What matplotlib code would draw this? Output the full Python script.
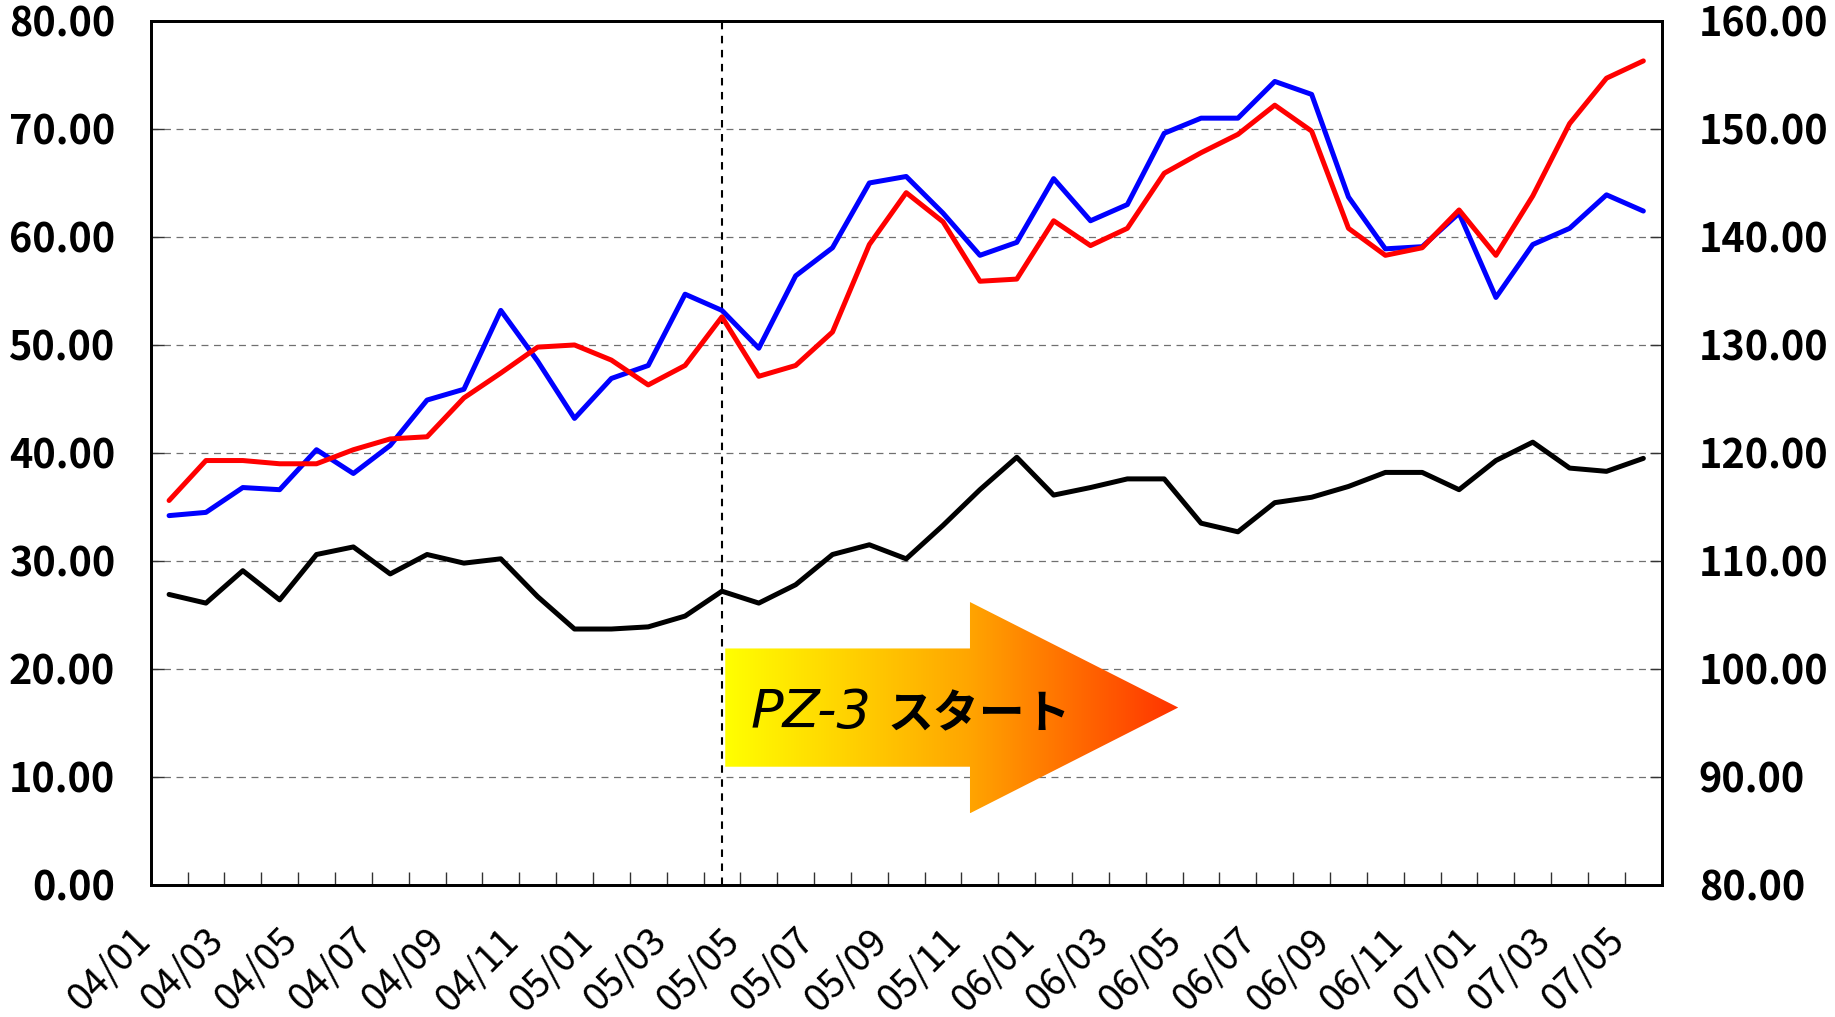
import matplotlib
matplotlib.use('Agg')
import matplotlib.pyplot as plt
import numpy as np
from matplotlib.colors import LinearSegmentedColormap
from matplotlib.patches import Polygon
from matplotlib.transforms import ScaledTranslation

plt.rcParams['lines.scale_dashes'] = False
plt.rcParams['font.family'] = ['Noto Sans CJK JP', 'DejaVu Sans']

# ---------------- data ----------------
months = ['04/01', '04/02', '04/03', '04/04', '04/05', '04/06', '04/07', '04/08', '04/09', '04/10',
          '04/11', '04/12', '05/01', '05/02', '05/03', '05/04', '05/05', '05/06', '05/07', '05/08',
          '05/09', '05/10', '05/11', '05/12', '06/01', '06/02', '06/03', '06/04', '06/05', '06/06',
          '06/07', '06/08', '06/09', '06/10', '06/11', '06/12', '07/01', '07/02', '07/03', '07/04',
          '07/05']

# left axis (0-80)
black_vals = [26.9, 26.1, 29.1, 26.4, 30.6, 31.3, 28.8, 30.6, 29.8, 30.2,
              26.7, 23.7, 23.7, 23.9, 24.9, 27.2, 26.1, 27.8, 30.6, 31.5,
              30.2, 33.3, 36.6, 39.6, 36.1, 36.8, 37.6, 37.6, 33.5, 32.7,
              35.4, 35.9, 36.9, 38.2, 38.2, 36.6, 39.3, 41.0, 38.6, 38.3,
              39.5]

# right axis (80-160)
blue_vals = [114.2, 114.5, 116.8, 116.6, 120.3, 118.1, 120.7, 124.9, 125.9, 133.2,
             128.5, 123.2, 126.9, 128.1, 134.7, 133.2, 129.7, 136.4, 139.0, 145.0,
             145.6, 142.2, 138.3, 139.5, 145.4, 141.5, 143.0, 149.6, 151.0, 151.0,
             154.4, 153.2, 143.7, 138.9, 139.1, 142.2, 134.4, 139.3, 140.8, 143.9,
             142.4]
red_vals = [115.6, 119.3, 119.3, 119.0, 119.0, 120.3, 121.3, 121.5, 125.1, 127.4,
            129.8, 130.0, 128.6, 126.3, 128.1, 132.6, 127.1, 128.1, 131.2, 139.3,
            144.1, 141.4, 135.9, 136.1, 141.5, 139.2, 140.8, 145.9, 147.8, 149.5,
            152.2, 149.8, 140.8, 138.3, 139.0, 142.5, 138.3, 143.8, 150.5, 154.7,
            156.3]

left_ticks = [0, 10, 20, 30, 40, 50, 60, 70, 80]
right_ticks = [80, 90, 100, 110, 120, 130, 140, 150, 160]
start_month = '05/04'
label_latin = 'PZ-3'
label_jp = 'スタート'

# ---------------- figure ----------------
fig = plt.figure(figsize=(18.35, 10.17), dpi=100)
ax = fig.add_axes([0.0821, 0.1298, 0.8235, 0.8496])
ax2 = ax.twinx()

x = np.arange(len(months))
lw = 3.6
ax.plot(x, black_vals, color='black', lw=lw, solid_capstyle='round',
        solid_joinstyle='round', zorder=3)
ax2.plot(x, blue_vals, color='#0000FF', lw=lw, solid_capstyle='round',
         solid_joinstyle='round', zorder=3)
ax2.plot(x, red_vals, color='#FF0000', lw=lw, solid_capstyle='round',
         solid_joinstyle='round', zorder=4)

# vertical marker at start
ax.axvline(months.index(start_month), color='black', lw=1.5,
           linestyle=(0, (5.4, 4.7)), zorder=2)

# gradient arrow
arrow_verts = [(15.09, 10.95), (15.09, 21.9), (21.73, 21.9), (21.73, 26.2),
               (27.38, 16.43), (21.73, 6.64), (21.73, 10.95)]
poly = Polygon(arrow_verts, closed=True, facecolor='none', edgecolor='none',
               transform=ax.transData)
ax.add_patch(poly)
cmap = LinearSegmentedColormap.from_list(
    'arr', [(0.0, '#FFFF00'), (0.54, '#FFA500'), (1.0, '#FF3300')])
grad = np.linspace(0, 1, 512).reshape(1, -1)
im = ax.imshow(grad, cmap=cmap, aspect='auto', extent=(15.09, 27.38, 6.64, 26.2),
               origin='lower', zorder=2.2, interpolation='bilinear')
im.set_clip_path(poly)

ax.text(15.77, 14.54, label_latin, fontsize=39, fontstyle='oblique',
        family=['DejaVu Sans'], fontweight='light', va='baseline', ha='left', zorder=5)
ax.text(19.5, 14.54, label_jp, fontsize=33, fontweight='bold',
        family=['Noto Sans CJK JP', 'DejaVu Sans'], va='baseline', ha='left', zorder=5)

# limits
ax.set_xlim(-0.5, len(months) - 0.5)
ax.set_ylim(0, 80)
ax2.set_ylim(80, 160)

# y ticks
ax.set_yticks(left_ticks, labels=['%.2f' % v for v in left_ticks],
              fontsize=28.5, fontweight='bold')
ax2.set_yticks(right_ticks, labels=['%.2f' % v for v in right_ticks],
               fontsize=28.5, fontweight='bold')
ax.tick_params(axis='y', direction='in', length=9, width=1.0, pad=25.5, color='#333333')
ax2.tick_params(axis='y', direction='in', length=9, width=1.0, pad=26.6, color='#333333')

# grid
ax.grid(axis='y', color='#707070', linestyle=(0, (5, 4)), linewidth=0.9, zorder=1)

# x ticks
ax.set_xticks(x[::2], labels=[months[i] for i in x[::2]], fontsize=27.5)
ax.set_xticks(np.arange(0.5, len(months) - 0.5, 1.0), minor=True)
ax.tick_params(axis='x', which='major', length=0, pad=36, labelrotation=45)
ax.tick_params(axis='x', which='minor', direction='in', length=9.4, width=1.0,
               color='#333333')
offset = ScaledTranslation(-0.25, 0, fig.dpi_scale_trans)
for lab in ax.get_xticklabels():
    lab.set_ha('right')
    lab.set_va('center')
    lab.set_rotation_mode('anchor')
    lab.set_transform(lab.get_transform() + offset)

for a in (ax, ax2):
    for s in a.spines.values():
        s.set_linewidth(2.0)
        s.set_color('black')

fig.savefig('out.png', dpi=100)
